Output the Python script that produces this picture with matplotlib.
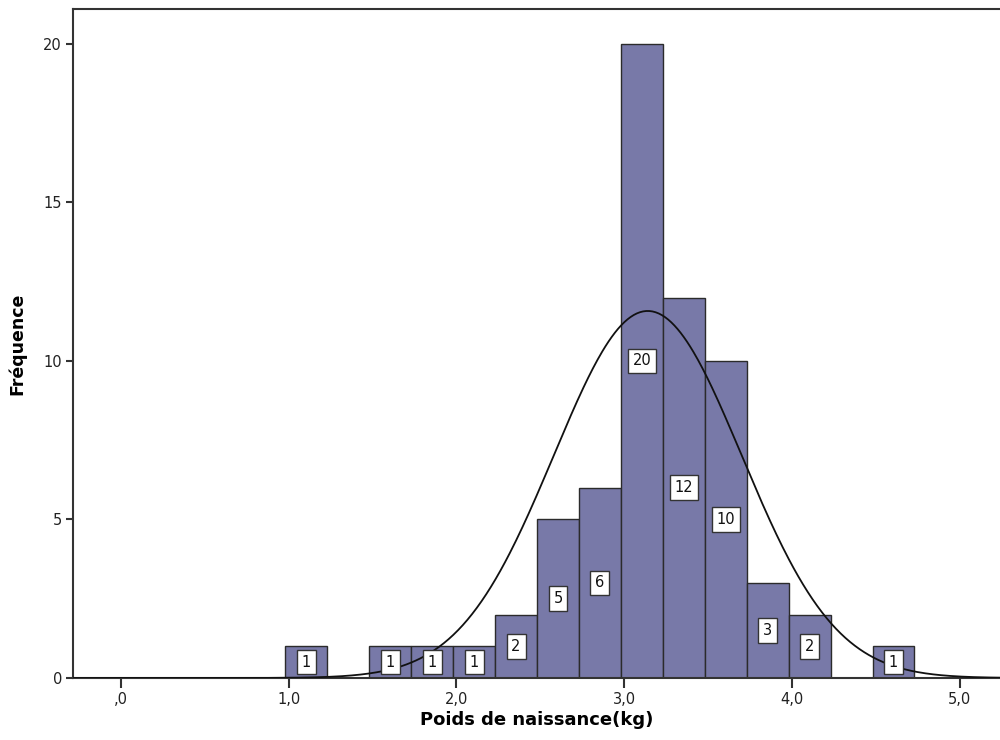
import numpy as np
import matplotlib
matplotlib.use("Agg")
import matplotlib.pyplot as plt

plt.rcParams['font.family'] = ['DejaVu Sans']

# Histogram of birth weights (kg): bin edges and frequencies
bin_start = 0.98
bin_width = 0.25
counts = [1, 0, 1, 1, 1, 2, 5, 6, 20, 12, 10, 3, 2, 0, 1]
n_total = sum(counts)

# Fitted normal curve parameters
mean_kg = 3.14
sd_kg = 0.56

x_ticks = [0, 1, 2, 3, 4, 5]
x_tick_labels = [",0", "1,0", "2,0", "3,0", "4,0", "5,0"]
y_ticks = [0, 5, 10, 15, 20]

bar_color = "#7879a8"
edge_color = "#2b2b2b"

fig = plt.figure(figsize=(10, 7.4), dpi=100)
ax = fig.add_axes([0.073, 0.0838, 0.927, 0.904])

lefts = bin_start + bin_width * np.arange(len(counts))
centers = lefts + bin_width / 2
for left, c in zip(lefts, counts):
    if c > 0:
        ax.bar(left, c, width=bin_width, align="edge", color=bar_color,
               edgecolor=edge_color, linewidth=1.0, zorder=2)

# Normal curve scaled to counts
xs = np.linspace(-0.3, 5.3, 600)
ys = n_total * bin_width / (sd_kg * np.sqrt(2 * np.pi)) * np.exp(-0.5 * ((xs - mean_kg) / sd_kg) ** 2)
ax.plot(xs, ys, color="#111111", linewidth=1.3, zorder=3)

# Count labels in white boxes at half bar height
for xc, c in zip(centers, counts):
    if c > 0:
        ax.text(xc, c / 2, str(c), ha="center", va="center", fontsize=10.5,
                color="#111111", zorder=4,
                bbox=dict(boxstyle="square,pad=0.33", facecolor="white",
                          edgecolor="#333333", linewidth=1.0))

ax.set_xlim(-0.286, 5.24)
ax.set_ylim(0, 21.1)
ax.set_xticks(x_ticks)
ax.set_xticklabels(x_tick_labels)
ax.set_yticks(y_ticks)

for side in ["left", "top", "bottom"]:
    ax.spines[side].set_color("#333333")
    ax.spines[side].set_linewidth(1.5)
ax.spines["right"].set_visible(False)

ax.tick_params(axis="x", direction="out", length=7, width=1.5, color="#333333",
               labelsize=10.5, pad=3, labelcolor="#222222")
ax.tick_params(axis="y", direction="out", length=5, width=1.5, color="#333333",
               labelsize=10.5, pad=3, labelcolor="#222222")

ax.set_xlabel("Poids de naissance(kg)", fontsize=13, fontweight="bold", labelpad=3)
ax.set_ylabel("Fréquence", fontsize=12.5, fontweight="bold", labelpad=12)

fig.savefig("out.png", dpi=100)
